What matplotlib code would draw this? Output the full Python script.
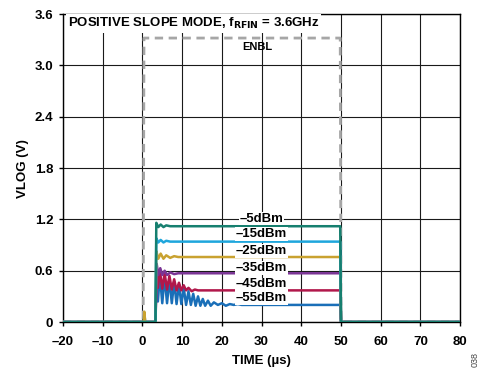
import matplotlib
matplotlib.use("Agg")
import matplotlib.pyplot as plt

plt.rcParams['font.family'] = ['Liberation Sans', 'DejaVu Sans']
plt.rcParams['font.weight'] = 'bold'

# ENBL (gray dashed)
enbl_t = [-20, 0.2, 0.4, 49.8, 50.0, 80]
enbl_v = [0, 0, 3.32, 3.32, 0, 0]

# traces
t_m5 = [-20, 3.3, 3.5, 4.0, 4.6, 5.3, 6.0, 7.0, 8.0, 49.8, 50.0, 80]
v_m5 = [0, 0, 1.16, 1.11, 1.14, 1.11, 1.13, 1.12, 1.12, 1.12, 0, 0]

t_m15 = [-20, 3.3, 3.5, 4.0, 4.6, 5.3, 6.0, 7.0, 8.0, 49.8, 50.0, 80]
v_m15 = [0, 0, 0.98, 0.93, 0.96, 0.93, 0.95, 0.94, 0.94, 0.94, 0, 0]

t_m25 = [-20, 0.3, 0.5, 0.7, 3.3, 3.5, 4.0, 4.6, 5.3, 6.0, 7.0, 8.0, 9.0, 49.8, 50.0, 80]
v_m25 = [0, 0, 0.12, 0, 0, 0.83, 0.74, 0.80, 0.74, 0.78, 0.75, 0.77, 0.76, 0.76, 0, 0]

t_m35 = [-20, 3.3, 3.6, 4.0, 4.5, 5.0, 5.6, 6.2, 7.0, 8.0, 9.0, 49.8, 50.0, 80]
v_m35 = [0, 0, 0.68, 0.55, 0.63, 0.55, 0.60, 0.55, 0.58, 0.56, 0.57, 0.57, 0, 0]

t_m45 = [-20, 3.3, 3.6, 3.9, 4.4, 5.0, 5.6, 6.2, 6.8, 7.4, 8.0, 8.6, 9.2, 9.8, 10.4,
         11.0, 11.6, 12.4, 13.2, 14.0, 49.8, 50.0, 80]
v_m45 = [0, 0, 0.62, 0.40, 0.60, 0.39, 0.57, 0.38, 0.54, 0.38, 0.50, 0.37, 0.46, 0.37, 0.43,
         0.37, 0.40, 0.36, 0.38, 0.37, 0.37, 0, 0]

t_m55 = [-20, 0.3, 0.5, 0.7, 3.3, 3.5, 3.9, 4.4, 5.0, 5.6, 6.2, 6.8, 7.4, 8.0, 8.6, 9.2,
         9.8, 10.4, 11.0, 11.6, 12.2, 12.8, 13.4, 14.0, 14.6, 15.2, 15.8, 16.5, 17.2,
         18.0, 19.0, 20.0, 21.0, 22.0, 23.0, 24.0, 25.0, 49.8, 50.0, 80]
v_m55 = [0, 0, 0.10, 0, 0, 0.58, 0.24, 0.55, 0.22, 0.53, 0.22, 0.50, 0.22, 0.47, 0.21, 0.44,
         0.21, 0.40, 0.20, 0.36, 0.20, 0.33, 0.19, 0.30, 0.19, 0.27, 0.19, 0.25, 0.19,
         0.23, 0.20, 0.22, 0.19, 0.21, 0.20, 0.21, 0.20, 0.20, 0, 0]

series = [
    ("–55dBm", "#1a6fb8", t_m55, v_m55, 0.28),
    ("–45dBm", "#b1184b", t_m45, v_m45, 0.44),
    ("–35dBm", "#7b3595", t_m35, v_m35, 0.63),
    ("–25dBm", "#c9a230", t_m25, v_m25, 0.83),
    ("–15dBm", "#1fa6dc", t_m15, v_m15, 1.03),
    ("–5dBm", "#167f6f", t_m5, v_m5, 1.21),
]

xticks = [-20, -10, 0, 10, 20, 30, 40, 50, 60, 70, 80]
xticklabels = ["–20", "–10", "0", "10", "20", "30", "40", "50", "60", "70", "80"]
yticks = [0, 0.6, 1.2, 1.8, 2.4, 3.0, 3.6]
yticklabels = ["0", "0.6", "1.2", "1.8", "2.4", "3.0", "3.6"]

fig = plt.figure(figsize=(4.88, 3.71), dpi=100)
ax = fig.add_axes([0.129, 0.132, 0.814, 0.830])

ax.set_xlim(-20, 80)
ax.set_ylim(0, 3.6)
ax.set_xticks(xticks)
ax.set_xticklabels(xticklabels)
ax.set_yticks(yticks)
ax.set_yticklabels(yticklabels)
ax.tick_params(axis='y', length=3, width=1, labelsize=9.5, pad=4)
ax.tick_params(axis='x', length=3, width=1, labelsize=9.5, pad=7)
for lab in ax.get_xticklabels() + ax.get_yticklabels():
    lab.set_fontweight('bold')
ax.grid(True, color='#1a1a1a', linewidth=0.8)
ax.set_axisbelow(True)
for s in ax.spines.values():
    s.set_linewidth(1.0)
    s.set_color('black')

ax.plot(enbl_t, enbl_v, color='#a6a6a6', linewidth=2.0, linestyle=(0, (3, 2)), zorder=3)

for lab, col, tt, vv, ly in series:
    ax.plot(tt, vv, color=col, linewidth=1.8, zorder=4)
for lab, col, tt, vv, ly in series:
    ax.text(30, ly, lab, ha='center', va='center', fontsize=9.5, fontweight='bold',
            bbox=dict(facecolor='white', edgecolor='none', pad=0.5), zorder=6)

ax.text(29.0, 3.22, "ENBL", ha='center', va='center', fontsize=8, fontweight='bold', zorder=6)

ax.text(-18.8, 3.49, r"POSITIVE SLOPE MODE, f$_{\mathbf{RFIN}}$ = 3.6GHz", ha='left', va='center',
        fontsize=9.5, fontweight='bold',
        bbox=dict(facecolor='white', edgecolor='none', pad=1.5), zorder=7)

ax.set_xlabel("TIME (µs)", fontsize=9.5, fontweight='bold', labelpad=5)
ax.set_ylabel("VLOG (V)", fontsize=9.5, fontweight='bold', labelpad=4)

fig.text(0.974, 0.03, "038", rotation=90, fontsize=6.5, fontweight='normal', ha='center', va='center', color='#444444')

fig.savefig("out.png", dpi=100)
